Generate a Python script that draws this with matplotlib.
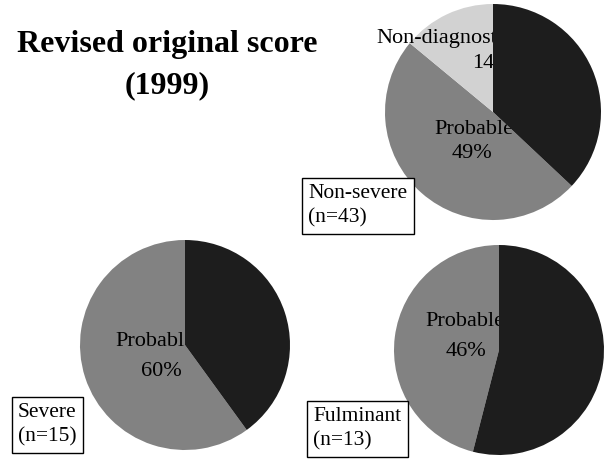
import matplotlib
matplotlib.use("Agg")
import matplotlib.pyplot as plt

# ---- data ----
categories = ["Definite", "Probable", "Non-diagnostic"]
nonsevere_pct = [37, 49, 14]
severe_pct = [40, 60, 0]
fulminant_pct = [54, 46, 0]
group_labels = ["Non-severe\n(n=43)", "Severe\n(n=15)", "Fulminant\n(n=13)"]
title_lines = ["Revised original score", "(1999)"]

colors = ["#1d1d1d", "#828282", "#d2d2d2"]

W, H = 610, 459
plt.rcParams['font.family'] = ['Liberation Serif', 'DejaVu Serif']

fig = plt.figure(figsize=(W / 100, H / 100), dpi=100)
ax = fig.add_axes([0, 0, 1, 1])


def Y(y):
    return H - y


def draw_pie(values, cx, cy, r):
    vals, cols = [], []
    for v, c in zip(values, colors):
        if v > 0:
            vals.append(v)
            cols.append(c)
    wedges, _ = ax.pie(vals, colors=cols, startangle=90, counterclock=False,
                       center=(cx, Y(cy)), radius=r,
                       wedgeprops=dict(linewidth=0))
    wedges[0].set_zorder(3)  # definite wedge drawn above labels
    for w in wedges[1:]:
        w.set_zorder(1)
    return wedges


lab_fs = 16

# Non-severe (top right)
draw_pie(nonsevere_pct, 493, 112, 108)
ax.text(474, Y(130), categories[1], ha='center', va='center', fontsize=lab_fs, zorder=2)
ax.text(472, Y(153), f"{nonsevere_pct[1]}%", ha='center', va='center', fontsize=lab_fs, zorder=2)
ax.text(376, Y(38), categories[2], ha='left', va='center', fontsize=lab_fs, zorder=2)
ax.text(472, Y(63), f"{nonsevere_pct[2]}%", ha='left', va='center', fontsize=lab_fs, zorder=2)

# Severe (bottom left)
draw_pie(severe_pct, 185, 345, 105)
ax.text(155, Y(341), categories[1], ha='center', va='center', fontsize=lab_fs, zorder=2)
ax.text(161, Y(372), f"{severe_pct[1]}%", ha='center', va='center', fontsize=lab_fs, zorder=2)

# Fulminant (bottom right)
draw_pie(fulminant_pct, 499, 350, 105)
ax.text(465, Y(321), categories[1], ha='center', va='center', fontsize=lab_fs, zorder=2)
ax.text(466, Y(351), f"{fulminant_pct[1]}%", ha='center', va='center', fontsize=lab_fs, zorder=2)

# Group boxes
box = dict(boxstyle='square,pad=0.3', fc='white', ec='black', lw=1.0)
box_pos = [(308, 184), (18, 403), (313, 407)]
for lbl, (bx, by) in zip(group_labels, box_pos):
    ax.text(bx, Y(by), lbl, ha='left', va='top', fontsize=15.5, bbox=box,
            zorder=5, linespacing=1.35)

# Title
ax.text(167, Y(52), title_lines[0], ha='center', va='baseline',
        fontsize=23, fontweight='bold', zorder=5)
ax.text(167, Y(93), title_lines[1], ha='center', va='baseline',
        fontsize=23, fontweight='bold', zorder=5)

ax.set_xlim(0, W)
ax.set_ylim(0, H)
ax.set_aspect('equal')
ax.axis('off')

fig.savefig("out.png", dpi=100, facecolor='white')
